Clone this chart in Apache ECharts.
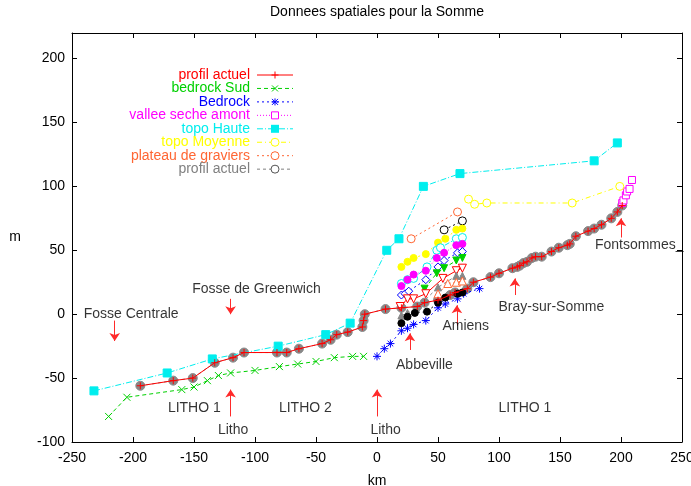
<!DOCTYPE html>
<html><head><meta charset="utf-8">
<script src="https://cdn.jsdelivr.net/npm/echarts@6/dist/echarts.min.js"></script>
<style>html,body{margin:0;padding:0;background:#fff}#c{width:691px;height:486px}</style>
</head><body><div id="c"></div>
<script>
// ---------- data (km, m) ----------
const profilActuel = [[-194,-56],[-167,-52],[-151,-50],[-133,-38],[-118,-34],[-109,-30],[-82,-30],[-74,-30],[-64,-27],[-45,-23],[-38,-20],[-33,-16],[-24,-14],[-12,-10],[-11,-5],[-10,0],[7,4],[20,5],[33,6],[39,9],[50,11],[60,15],[64,17],[74,20],[79,25],[93,29],[100,32],[111,36],[115,37],[117,38],[120,40],[123,41],[127,44],[130,45],[135,45],[143,49],[149,52],[156,54],[158,55],[163,61],[173,65],[178,67],[184,70],[192,75],[197,80],[201,85]];
const bedrockSud = [[-220,-80],[-205,-65],[-160,-59],[-150,-57],[-139,-52],[-130,-48],[-120,-46],[-100,-44],[-80,-41],[-65,-39],[-50,-37],[-35,-34],[-20,-33],[-11,-33]];
const bedrock = [[0,-33],[6,-27],[11,-23],[20,-13],[25,-11],[30,-8],[40,-5],[50,5],[56,8],[66,12],[71,16],[84,20]];
const valleeSecheAmont = [[201,87],[202,89],[204,93],[205,96],[207,98],[209,105]];
const topoHaute = [[-232,-60],[-172,-46],[-135,-35],[-81,-25],[-42,-16],[-22,-7],[8,50],[18,59],[38,100],[68,110],[178,120],[197,134]];
const topoMoyenne = [[75,90],[80,86],[90,87],[160,87],[199,100]];
const plateauGraviers = [[28,59],[66,80]];
// unlabelled terrace series
const terrBlackOpen = [[55,66],[70,73]];
const terrYellow = [[20,37],[25,41],[30,44],[40,47],[50,56],[56,59],[65,66],[70,67]];
const terrCyan = [[20,24],[25,27],[30,28],[41,37],[49,50],[52,52],[65,59],[70,60]];
const terrMagenta = [[20,22],[25,27],[30,31],[40,34],[49,44],[55,48],[65,54],[70,55]];
const terrBlue = [[20,15],[23,16],[26,18],[40,27],[50,37],[55,42],[66,48],[70,49]];
const terrGreen = [[39,20],[49,32],[55,36],[65,42],[70,44]];
const terrRed = [[19,6],[25,12],[30,12],[40,16],[54,28],[65,34],[70,36]];
const terrGray = [[20,-1],[25,1],[32,4],[50,21],[65,30],[70,30]];
const terrOrange = [[50,16],[58,24],[65,25],[70,26]];
const terrBlack = [[20,-7],[25,-2],[31,1],[41,2],[50,9],[56,13],[66,16],[70,17]];

const labelTexts = ['Fosse Centrale','Fosse de Greenwich','Abbeville','Amiens','Bray-sur-Somme','Fontsommes_','LITHO 1','LITHO 2','LITHO 1','Litho','Litho'];
const labelPos = [[-240,0],[-151,19.5],[16,-40],[54,-10],[100,5.5],[179,54],[-171,-74],[-80,-74],[100,-74],[-130,-91],[-5,-91]];
const arrows = [[[-215,-5],[-215,-21]],[[-120,12],[-120,0]],[[-120,-80],[-120,-59]],[[0,-80],[0,-59]],[[27,-28],[27,-15]],[[65.5,-9],[65.5,7]],[[113,15],[113,28]],[[200,60],[200,75]]];

const xTicks = {min:-250, max:250, interval:50};
const yTicks = {min:-100, max:220, interval:50};

// ---------- styling ----------
const FF = '"Liberation Sans", Arial, Helvetica, sans-serif';
const FS = 14;
const C = {red:'#ff0000', green:'#00d000', blue:'#0000ff', magenta:'#ff00ff', cyan:'#00eeee', yellow:'#ffff00', orange:'#ff6633', gray:'#888888', black:'#000000'};
const SYM = {
  plus:'path://M5,0V10M0,5H10',
  cross:'path://M0,0L10,10M10,0L0,10',
  star:'path://M5,0V10M0,5H10M1.5,1.5L8.5,8.5M8.5,1.5L1.5,8.5',
  triDown:'path://M0,0L10,0L5,9Z',
  triUp:'path://M5,0L10,9L0,9Z',
  diamond:'path://M5,0L10,5L5,10L0,5Z'
};
function ser(name, data, color, symbol, size, dash, open, z, width) {
  return {
    name, type:'line', data, symbol, symbolSize:size, showAllSymbol:true, z:z||2,
    lineStyle:{color, width:width||1, type:dash},
    itemStyle:{color: open ? '#ffffff' : color, borderColor:color, borderWidth:1},
    emphasis:{disabled:true}, silent:true
  };
}
const series = [
  ser('profil actuel (gris)', profilActuel, C.gray, 'circle', 9, [3,3], false, 2),
  ser('bedrock Sud', bedrockSud, C.green, SYM.cross, 7, [4,3], false, 3),
  ser('Bedrock', bedrock, C.blue, SYM.star, 8, [2,3], false, 3),
  ser('vallee seche amont', valleeSecheAmont, C.magenta, 'rect', 7, [1,2], true, 3),
  ser('topo Haute', topoHaute, C.cyan, 'rect', 8, [6,2,1,2], false, 3),
  ser('topo Moyenne', topoMoyenne, C.yellow, 'circle', 8, [5,3,1,3], true, 3),
  ser('plateau de graviers', plateauGraviers, C.orange, 'circle', 8, [2,3], true, 3),
  ser('t1', terrBlackOpen, C.black, 'circle', 8, [2,3], true, 3),
  ser('t2', terrYellow, C.yellow, 'circle', 7, [2,3], false, 3),
  ser('t3', terrCyan, C.cyan, 'circle', 8, [5,2,1,2], true, 3),
  ser('t4', terrMagenta, C.magenta, 'circle', 7, [1,2], false, 3),
  ser('t5', terrBlue, C.blue, SYM.diamond, 8, [2,3], true, 3),
  ser('t6', terrGreen, C.green, SYM.triDown, 7, [4,3], false, 3),
  ser('t7', terrRed, C.red, SYM.triDown, 8, 'solid', true, 3),
  ser('t8', terrGray, C.gray, SYM.triUp, 7, [3,3], false, 3),
  ser('t9', terrOrange, C.orange, SYM.triUp, 8, [2,3], true, 3),
  ser('t10', terrBlack, C.black, 'circle', 7, [2,3], false, 3),
  ser('profil actuel', profilActuel, C.red, SYM.plus, 7, 'solid', false, 4),
  {
    type:'lines', coordinateSystem:'cartesian2d', silent:true, z:5,
    data: arrows.map(a => ({coords:a})),
    symbol:['none','arrow'], symbolSize:[6,8],
    lineStyle:{color:'#ff2a2a', width:1, opacity:1}
  },
  {
    type:'scatter', silent:true, z:6, symbolSize:1, itemStyle:{color:'rgba(0,0,0,0)'},
    data: labelPos.map((p,i) => ({value:p, name:labelTexts[i]})),
    label:{show:true, position:[0,0], align:'left', verticalAlign:'middle', formatter:p=>p.name, color:'#000', fontFamily:FF, fontSize:FS}
  }
];

// ---------- key (drawn as graphics) ----------
const keyItems = [
  {t:'profil actuel', c:C.red, s:'plus', d:null},
  {t:'bedrock Sud', c:C.green, s:'cross', d:[4,3]},
  {t:'Bedrock', c:C.blue, s:'star', d:[2,3]},
  {t:'vallee seche amont', c:C.magenta, s:'emptyRect', d:[1,2]},
  {t:'topo Haute', c:C.cyan, s:'rect', d:[6,2,1,2]},
  {t:'topo Moyenne', c:C.yellow, s:'emptyCircle', d:[5,3,1,3]},
  {t:'plateau de graviers', c:C.orange, s:'emptyCircle', d:[2,3]},
  {t:'profil actuel', c:'#808080', s:'grayCircle', d:[3,3]}
];
const graphic = [];
graphic.push({type:'text', x:377, y:12, style:{text:'Donnees spatiales pour la Somme', fill:'#000', font:`${FS}px ${FF}`, align:'center', verticalAlign:'middle'}});
keyItems.forEach((k,i) => {
  const cy = 75 + i*13.45;
  graphic.push({type:'text', x:250, y:cy, style:{text:k.t, fill:k.c, font:`${FS}px ${FF}`, align:'right', verticalAlign:'middle'}});
  graphic.push({type:'line', shape:{x1:257, y1:cy, x2:293, y2:cy}, style:{stroke:k.c, lineWidth:1, lineDash:k.d}});
  const cx = 275;
  const L = (x1,y1,x2,y2) => graphic.push({type:'line', shape:{x1,y1,x2,y2}, style:{stroke:k.c, lineWidth:1}});
  if (k.s==='plus' || k.s==='star') { L(cx-3.5,cy,cx+3.5,cy); L(cx,cy-3.5,cx,cy+3.5); }
  if (k.s==='cross' || k.s==='star') { L(cx-3,cy-3,cx+3,cy+3); L(cx+3,cy-3,cx-3,cy+3); }
  if (k.s==='emptyRect') graphic.push({type:'rect', shape:{x:cx-3.5,y:cy-3.5,width:7,height:7}, style:{stroke:k.c, fill:'#fff', lineWidth:1}});
  if (k.s==='rect') graphic.push({type:'rect', shape:{x:cx-4,y:cy-4,width:8,height:8}, style:{fill:k.c}});
  if (k.s==='emptyCircle') graphic.push({type:'circle', shape:{cx,cy,r:4}, style:{stroke:k.c, fill:'#fff', lineWidth:1}});
  if (k.s==='grayCircle') graphic.push({type:'circle', shape:{cx,cy,r:4}, style:{stroke:'#555', fill:'#fff', lineWidth:1}});
});

const axisCommon = {
  type:'value', splitLine:{show:false},
  axisLine:{onZero:false, lineStyle:{color:'#000', width:1}},
  axisTick:{inside:true, length:5, lineStyle:{color:'#000'}},
  axisLabel:{color:'#000', fontFamily:FF, fontSize:FS}
};
const option = {
  animation:false,
  backgroundColor:'#fff',
  grid:{left:72, right:9, top:33, bottom:44, outerBoundsMode:'none', containLabel:false},
  xAxis:[
    Object.assign({}, axisCommon, xTicks, {position:'bottom', name:'km', nameLocation:'middle', nameGap:32,
      nameTextStyle:{color:'#000', fontFamily:FF, fontSize:FS}, axisLabel:Object.assign({}, axisCommon.axisLabel, {margin:9})}),
    Object.assign({}, axisCommon, xTicks, {position:'top', axisLabel:{show:false}})
  ],
  yAxis:[
    Object.assign({}, axisCommon, yTicks, {position:'left', name:'m', nameLocation:'middle', nameGap:51, nameRotate:0,
      nameTextStyle:{color:'#000', fontFamily:FF, fontSize:FS}, axisLabel:Object.assign({}, axisCommon.axisLabel, {margin:7, showMaxLabel:false})}),
    Object.assign({}, axisCommon, yTicks, {position:'right', axisLabel:{show:false}})
  ],
  series, graphic
};
const chart = echarts.init(document.getElementById('c'), null, {renderer:'canvas'});
chart.setOption(option);
</script></body></html>
